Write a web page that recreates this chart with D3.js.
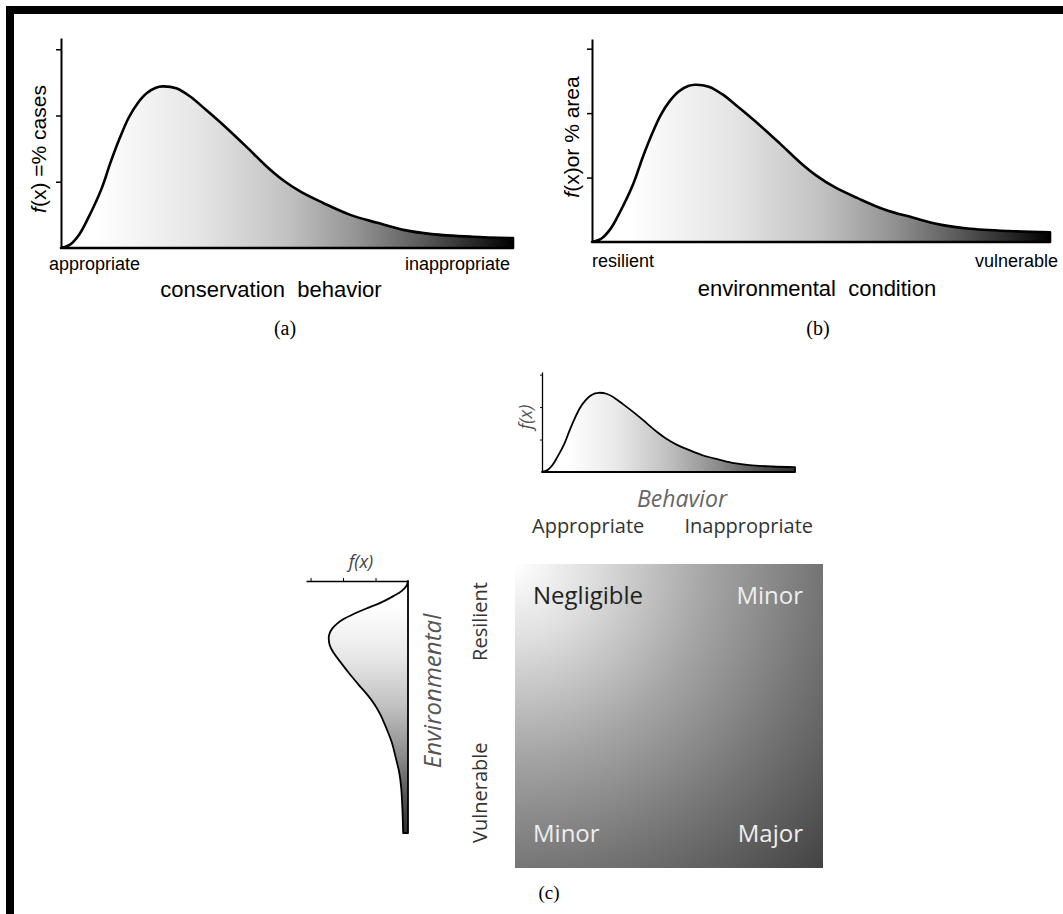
<!DOCTYPE html>
<html>
<head>
<meta charset="utf-8">
<script src="https://cdn.jsdelivr.net/npm/d3@7"></script>
<style>
body { margin: 0; background: #fff; }
svg { display: block; }
</style>
</head>
<body>
<svg id="chart" width="1063" height="914"></svg>
<script>
// f(x): position along the axis (0-100) and f(x) in tick units
const positions = [0, 2, 4, 6, 9, 11, 13, 15, 17, 19, 21, 22.5, 25.5, 28.5, 32, 36.5, 41, 45.5, 49, 53, 58, 64, 70, 76, 82, 91, 100];
const density = [0, 0.05, 0.2, 0.45, 0.9, 1.3, 1.66, 1.97, 2.19, 2.34, 2.42, 2.44, 2.41, 2.29, 2.09, 1.82, 1.53, 1.23, 1.03, 0.85, 0.68, 0.5, 0.38, 0.27, 0.21, 0.17, 0.15];
const densityTicks = [1, 2, 3];

const behaviorEnds = ["appropriate", "inappropriate"];
const conditionEnds = ["resilient", "vulnerable"];
const riskCols = ["Appropriate", "Inappropriate"];
const riskRows = ["Resilient", "Vulnerable"];
const riskLevels = [["Negligible", "Minor"], ["Minor", "Major"]];

const curve = positions.map(function (p, i) {
    return {p: p, v: density[i]};
});

const ARIAL = "'Liberation Sans', Arial, sans-serif";
const MYRIAD = "'Open Sans', 'Noto Sans', sans-serif";
const TIMES = "'Liberation Serif', 'Times New Roman', serif";

const bigStops = [[0.08, "#ffffff"], [0.3, "#e6e6e6"], [0.5, "#c2c2c2"], [0.65, "#959595"], [0.8, "#5a5a5a"], [0.92, "#252525"], [1, "#000000"]];
const smallStops = [[0.1, "#ffffff"], [0.3, "#e8e8e8"], [0.5, "#c0c0c0"], [0.7, "#8a8a8a"], [0.85, "#555555"], [1, "#2e2e2e"]];

var svg = d3.select("#chart");
var defs = svg.append("defs");

function addGradient(id, stops, x1, y1, x2, y2) {
    var grad = defs.append("linearGradient")
        .attr("id", id)
        .attr("gradientUnits", "userSpaceOnUse")
        .attr("x1", x1).attr("y1", y1)
        .attr("x2", x2).attr("y2", y2);
    grad.selectAll("stop").data(stops).enter().append("stop")
        .attr("offset", function (d) { return d[0]; })
        .attr("stop-color", function (d) { return d[1]; });
}

// horizontal f(x) plot: panels (a), (b) and the behavior plot of (c)
function drawCurvePlot(box) {
    var x = d3.scaleLinear().domain([0, 100]).range([box.left, box.right]);
    var y = d3.scaleLinear().domain([0, box.yMax]).range([box.baseline, box.top]);

    addGradient(box.id, box.stops, box.left, 0, box.right, 0);

    var area = d3.area()
        .x(function (d) { return x(d.p); })
        .y0(y(0))
        .y1(function (d) { return y(d.v); })
        .curve(d3.curveCatmullRom.alpha(0.5));

    svg.append("path")
        .datum(curve)
        .attr("d", area)
        .attr("fill", "url(#" + box.id + ")")
        .attr("stroke", "#000")
        .attr("stroke-width", box.stroke)
        .attr("stroke-linejoin", "round");

    var axis = svg.append("g")
        .attr("transform", "translate(" + box.left + ",0)")
        .call(d3.axisLeft(y).tickValues(densityTicks).tickSize(box.tick).tickSizeOuter(0).tickFormat(""));
    axis.select(".domain").attr("stroke-width", box.axisWidth);
    axis.selectAll(".tick line").attr("stroke-width", box.axisWidth * 0.75);
    return x;
}

// ---- panel (a)
var xa = drawCurvePlot({id: "fadeA", left: 61, right: 513, baseline: 248, top: 38, yMax: 3.17,
    stops: bigStops, stroke: 2.6, tick: 5, axisWidth: 2});

svg.append("text")
    .attr("transform", "translate(46,149) rotate(-90)")
    .attr("text-anchor", "middle")
    .style("font-family", ARIAL).style("font-size", "21px").style("white-space", "pre")
    .call(function (t) {
        t.append("tspan").style("font-style", "italic").text("f");
        t.append("tspan").text("(x) =% cases");
    });

svg.selectAll(".endA").data(behaviorEnds).enter().append("text")
    .attr("x", function (d, i) { return i === 0 ? xa(0) - 12 : xa(100) - 3; })
    .attr("y", 270)
    .attr("text-anchor", function (d, i) { return i === 0 ? "start" : "end"; })
    .style("font-family", ARIAL).style("font-size", "18px")
    .text(function (d) { return d; });

svg.append("text")
    .attr("x", 271).attr("y", 297)
    .attr("text-anchor", "middle")
    .style("font-family", ARIAL).style("font-size", "22px").style("white-space", "pre")
    .text("conservation  behavior");

svg.append("text")
    .attr("x", 285).attr("y", 335)
    .attr("text-anchor", "middle")
    .style("font-family", TIMES).style("font-size", "20px")
    .text("(a)");

// ---- panel (b)
var xb = drawCurvePlot({id: "fadeB", left: 592, right: 1050, baseline: 242, top: 39, yMax: 3.15,
    stops: bigStops, stroke: 2.6, tick: 5, axisWidth: 2});

svg.append("text")
    .attr("transform", "translate(579,137) rotate(-90)")
    .attr("text-anchor", "middle")
    .style("font-family", ARIAL).style("font-size", "21px").style("white-space", "pre")
    .call(function (t) {
        t.append("tspan").style("font-style", "italic").text("f");
        t.append("tspan").text("(x)or % area");
    });

svg.selectAll(".endB").data(conditionEnds).enter().append("text")
    .attr("x", function (d, i) { return i === 0 ? xb(0) : xb(100) + 8; })
    .attr("y", 267)
    .attr("text-anchor", function (d, i) { return i === 0 ? "start" : "end"; })
    .style("font-family", ARIAL).style("font-size", "18px")
    .text(function (d) { return d; });

svg.append("text")
    .attr("x", 817).attr("y", 296)
    .attr("text-anchor", "middle")
    .style("font-family", ARIAL).style("font-size", "22px").style("white-space", "pre")
    .text("environmental  condition");

svg.append("text")
    .attr("x", 818).attr("y", 335)
    .attr("text-anchor", "middle")
    .style("font-family", TIMES).style("font-size", "20px")
    .text("(b)");

// ---- panel (c): behavior distribution on top
drawCurvePlot({id: "fadeC", left: 542, right: 795, baseline: 472, top: 372, yMax: 3.08,
    stops: smallStops, stroke: 1.8, tick: 2, axisWidth: 1.3});

svg.append("text")
    .attr("transform", "translate(532,417) rotate(-90)")
    .attr("text-anchor", "middle")
    .style("font-family", MYRIAD).style("font-size", "18px").style("font-style", "italic")
    .attr("fill", "#555")
    .text("f(x)");

svg.append("text")
    .attr("x", 682).attr("y", 507)
    .attr("text-anchor", "middle")
    .style("font-family", MYRIAD).style("font-size", "23px").style("font-style", "italic")
    .attr("fill", "#666")
    .text("Behavior");

// ---- panel (c): environmental distribution on the left, drawn sideways
var envPos = d3.scaleLinear().domain([0, 100]).range([581, 833]);
var envVal = d3.scaleLinear().domain([0, 3.14]).range([408, 306]);

addGradient("fadeEnv", smallStops, 0, envPos(0), 0, envPos(100));

svg.append("path")
    .datum(curve)
    .attr("d", d3.area()
        .y(function (d) { return envPos(d.p); })
        .x0(envVal(0))
        .x1(function (d) { return envVal(d.v); })
        .curve(d3.curveCatmullRom.alpha(0.5)))
    .attr("fill", "url(#fadeEnv)")
    .attr("stroke", "#000")
    .attr("stroke-width", 1.8)
    .attr("stroke-linejoin", "round");

var envAxis = svg.append("g")
    .attr("transform", "translate(0," + envPos(0) + ")")
    .call(d3.axisTop(envVal).tickValues(densityTicks).tickSize(3).tickSizeOuter(0).tickFormat(""));
envAxis.select(".domain").attr("stroke-width", 1.6);

svg.append("text")
    .attr("x", 361).attr("y", 568)
    .attr("text-anchor", "middle")
    .style("font-family", MYRIAD).style("font-size", "18px").style("font-style", "italic")
    .attr("fill", "#444")
    .text("f(x)");

svg.append("text")
    .attr("transform", "translate(441,691) rotate(-90)")
    .attr("text-anchor", "middle")
    .style("font-family", MYRIAD).style("font-size", "24px").style("font-style", "italic")
    .attr("fill", "#555")
    .text("Environmental");

// ---- panel (c): risk square
var col = d3.scaleBand().domain(riskCols).range([515, 823]);
var row = d3.scaleBand().domain(riskRows).range([564, 868]);

var risk = defs.append("radialGradient")
    .attr("id", "riskFade")
    .attr("gradientUnits", "userSpaceOnUse")
    .attr("cx", col.range()[0]).attr("cy", row.range()[0])
    .attr("r", 432);
risk.selectAll("stop").data([[0, "#ffffff"], [0.18, "#dedede"], [0.45, "#a4a4a4"], [0.7, "#767676"], [1, "#434343"]])
    .enter().append("stop")
    .attr("offset", function (d) { return d[0]; })
    .attr("stop-color", function (d) { return d[1]; });

svg.append("rect")
    .attr("x", col.range()[0]).attr("y", row.range()[0])
    .attr("width", col.range()[1] - col.range()[0])
    .attr("height", row.range()[1] - row.range()[0])
    .attr("fill", "url(#riskFade)");

svg.selectAll(".colLabel").data(riskCols).enter().append("text")
    .attr("x", function (d, i) { return i === 0 ? col(d) + 17 : col(d) + col.bandwidth() - 10; })
    .attr("y", 533)
    .attr("text-anchor", function (d, i) { return i === 0 ? "start" : "end"; })
    .style("font-family", MYRIAD).style("font-size", "20px")
    .attr("fill", "#333")
    .text(function (d) { return d; });

svg.selectAll(".rowLabel").data(riskRows).enter().append("text")
    .attr("transform", function (d, i) {
        var yy = i === 0 ? row(d) + 18 : row(d) + row.bandwidth() - 25;
        return "translate(487," + yy + ") rotate(-90)";
    })
    .attr("text-anchor", function (d, i) { return i === 0 ? "end" : "start"; })
    .style("font-family", MYRIAD).style("font-size", "20px")
    .attr("fill", "#333")
    .text(function (d) { return d; });

riskRows.forEach(function (r, i) {
    riskCols.forEach(function (c, j) {
        var level = riskLevels[i][j];
        svg.append("text")
            .attr("x", j === 0 ? col(c) + 18 : col(c) + col.bandwidth() - 20)
            .attr("y", i === 0 ? row(r) + 40 : row(r) + row.bandwidth() - 26)
            .attr("text-anchor", j === 0 ? "start" : "end")
            .style("font-family", MYRIAD).style("font-size", "24px")
            .attr("fill", level === "Negligible" ? "#222" : "#eeeeee")
            .text(level);
    });
});

svg.append("text")
    .attr("x", 549).attr("y", 899)
    .attr("text-anchor", "middle")
    .style("font-family", TIMES).style("font-size", "19px")
    .text("(c)");

// page frame: black bars along the top and left edges
svg.append("rect").attr("x", 6).attr("y", 6).attr("width", 1057).attr("height", 8).attr("fill", "#000");
svg.append("rect").attr("x", 6).attr("y", 6).attr("width", 8).attr("height", 908).attr("fill", "#000");
</script>
</body>
</html>
